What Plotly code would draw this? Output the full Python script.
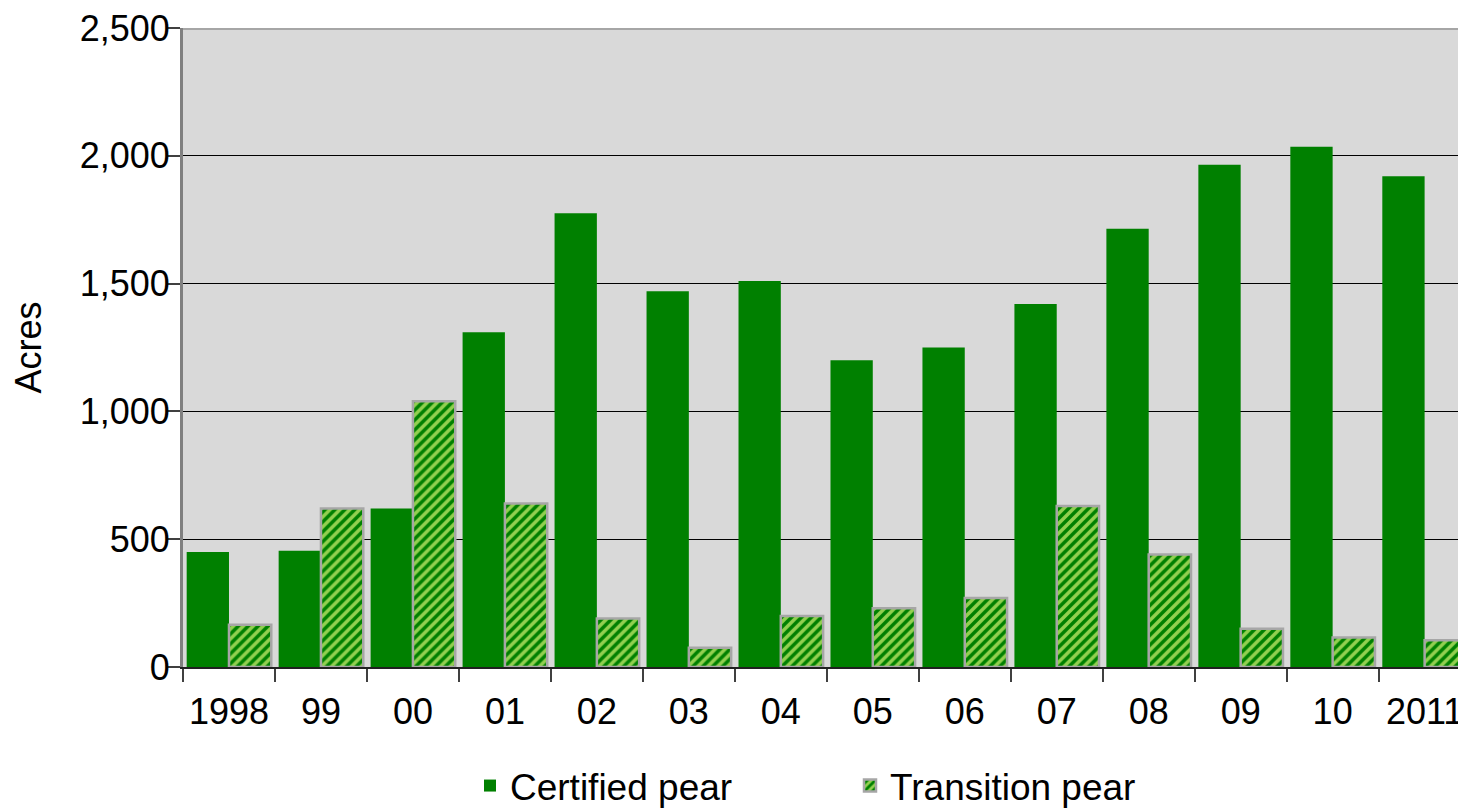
import plotly.graph_objects as go

years = ["1998", "99", "00", "01", "02", "03", "04", "05", "06", "07", "08", "09", "10", "2011"]
certified = [450, 455, 620, 1310, 1775, 1470, 1510, 1200, 1250, 1420, 1715, 1965, 2035, 1920]
transition = [165, 620, 1040, 640, 190, 75, 200, 230, 270, 630, 440, 150, 115, 105]
y_ticks = [0, 500, 1000, 1500, 2000, 2500]
y_tick_labels = ["0", "500", "1,000", "1,500", "2,000", "2,500"]

FONT = "Liberation Sans, Arial, sans-serif"

fig = go.Figure()
fig.add_trace(go.Bar(
    x=years, y=certified, name="Certified pear",
    marker=dict(color="#008000", line=dict(width=0)),
))
fig.add_trace(go.Bar(
    x=years, y=transition, name="Transition pear",
    marker=dict(
        color="#92d050",
        line=dict(color="#a6a6a6", width=2.5),
        pattern=dict(shape="/", fgcolor="#008000", bgcolor="#92d050",
                     size=7, solidity=0.5, fillmode="replace"),
    ),
))

# page body has an 8px margin, so the figure is 1458x800 and offset by 8px
fig.update_layout(
    width=1458, height=800,
    margin=dict(l=175, r=0, t=17, b=141),
    paper_bgcolor="white",
    plot_bgcolor="#d9d9d9",
    barmode="group",
    bargap=0.08,
    bargroupgap=0,
    font=dict(family=FONT, size=36, color="black"),
    showlegend=True,
    legend=dict(
        orientation="h",
        xref="container", yref="container",
        x=462 / 1458, xanchor="left",
        y=22 / 800, yanchor="middle",
        entrywidth=335,
        font=dict(family=FONT, size=37, color="black"),
        bgcolor="rgba(0,0,0,0)",
    ),
    xaxis=dict(
        type="category",
        range=[-0.5, 13.45],
        tickson="boundaries",
        ticks="outside", ticklen=13, tickwidth=1.5, tickcolor="#404040",
        showline=True, linecolor="#202020", linewidth=2,
        showgrid=False,
        tickfont=dict(size=36),
        ticklabelstandoff=12,
    ),
    yaxis=dict(
        range=[0, 2500],
        tickvals=y_ticks, ticktext=y_tick_labels,
        ticks="outside", ticklen=13, tickwidth=1.5, tickcolor="#404040",
        showline=True, linecolor="#808080", linewidth=3,
        showgrid=True, gridcolor="#000000", gridwidth=1,
        zeroline=False,
        tickfont=dict(size=36),
        ticklabelstandoff=-10,
        ticklabeloverflow="allow",
        title=dict(text="Acres", font=dict(size=36), standoff=29),
    ),
    shapes=[dict(type="line", xref="paper", yref="y", x0=0, x1=1, y0=2500, y1=2500,
                 line=dict(color="#a6a6a6", width=4), layer="above")],
)

fig.write_html("out.html")
